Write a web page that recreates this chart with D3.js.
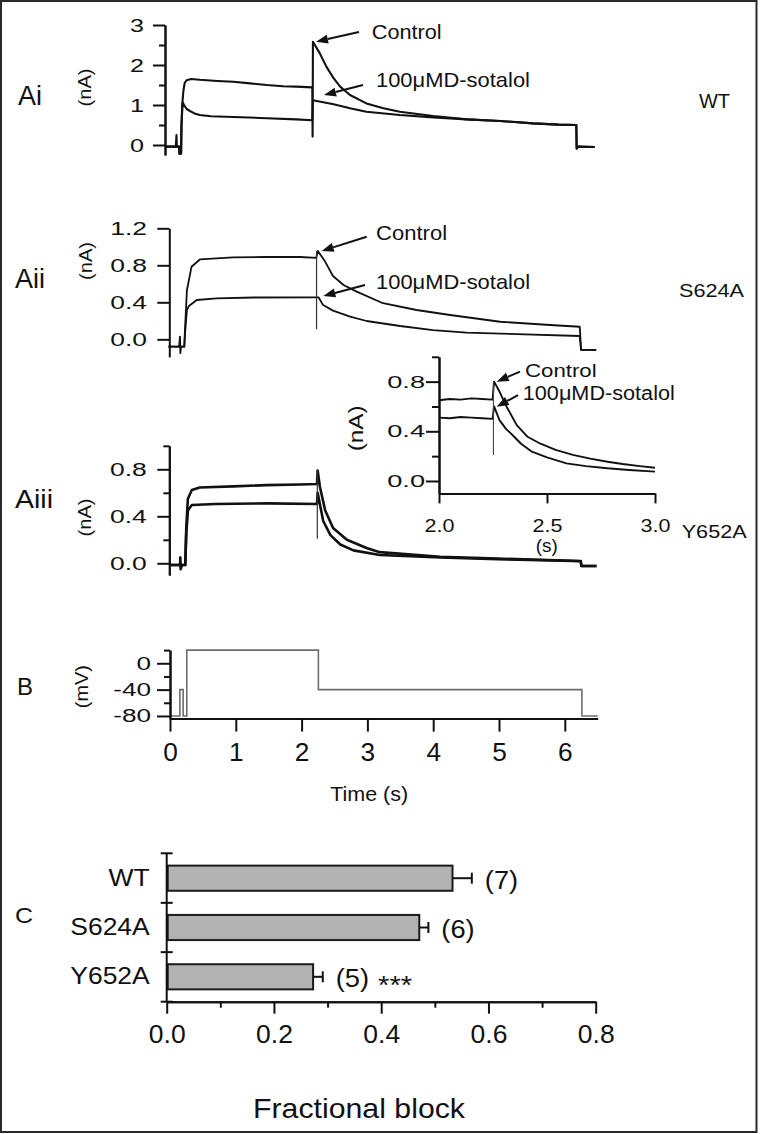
<!DOCTYPE html>
<html><head><meta charset="utf-8">
<script src="https://cdn.jsdelivr.net/npm/d3@7"></script>
<style>body{margin:0;background:#fff}svg{display:block}</style>
</head><body>
<svg id="fig" width="761" height="1134"></svg>
<script>
// ---------------- DATA ----------------
// Panel Ai (WT) current traces [time s, current nA]
const aiControl = [[0,-0.04],[0.165,-0.04],[0.175,0.25],[0.18,-0.04],[0.215,-0.04],[0.22,-0.22],[0.245,-0.22],[0.25,0.3],[0.26,0.95],[0.28,1.35],[0.3,1.55],[0.33,1.62],[0.4,1.65],[0.53,1.63],[0.8,1.6],[1.04,1.58],[1.3,1.54],[1.55,1.5],[1.8,1.47],[2.0,1.46],[2.245,1.44],[2.25,0.21],[2.255,2.58],[2.36,2.29],[2.46,1.96],[2.57,1.67],[2.67,1.46],[2.82,1.25],[3.07,1.04],[3.33,0.92],[3.58,0.83],[4.09,0.725],[4.6,0.64],[5.11,0.6],[5.61,0.54],[6.0,0.51],[6.27,0.5],[6.275,-0.09],[6.3,-0.04],[6.55,-0.05]];
const aiSotalol = [[0,-0.04],[0.215,-0.04],[0.22,-0.22],[0.245,-0.22],[0.25,0.5],[0.27,1.06],[0.29,1.0],[0.33,0.9],[0.38,0.85],[0.45,0.79],[0.53,0.75],[0.7,0.72],[1.04,0.7],[1.55,0.67],[2.0,0.64],[2.245,0.62],[2.255,1.12],[2.57,1.02],[2.82,0.92],[3.07,0.83],[3.58,0.75],[4.09,0.69],[4.6,0.64],[5.11,0.6],[5.61,0.54],[6.0,0.51],[6.27,0.5],[6.275,-0.09],[6.3,-0.04],[6.55,-0.05]];
// Panel Aii (S624A)
const aiiControl = [[0,-0.08],[0.16,-0.08],[0.175,0.03],[0.18,-0.15],[0.19,-0.08],[0.24,-0.08],[0.25,0.1],[0.28,0.53],[0.35,0.785],[0.48,0.865],[0.98,0.886],[1.49,0.89],[2.0,0.89],[2.245,0.88],[2.27,0.955],[2.38,0.84],[2.5,0.684],[2.66,0.587],[2.86,0.515],[3.26,0.39],[3.77,0.317],[4.28,0.263],[5.04,0.19],[5.8,0.155],[6.25,0.136],[6.27,-0.115],[6.5,-0.115]];
const aiiSotalol = [[0,-0.08],[0.24,-0.08],[0.25,0.05],[0.28,0.317],[0.31,0.36],[0.43,0.425],[0.73,0.443],[1.3,0.452],[2.245,0.454],[2.28,0.454],[2.35,0.37],[2.5,0.31],[2.76,0.245],[3.01,0.198],[3.52,0.144],[4.02,0.1],[4.53,0.072],[5.29,0.057],[6.25,0.036],[6.27,-0.115],[6.5,-0.115]];
const aiiSpike = [[2.25,0.955],[2.25,0.108]];
// Panel Aiii (Y652A)
const aiiiControl = [[0,-0.015],[0.16,-0.015],[0.165,0.05],[0.17,-0.05],[0.19,-0.015],[0.24,-0.015],[0.255,0.3],[0.28,0.55],[0.34,0.624],[0.46,0.645],[0.97,0.655],[1.47,0.665],[1.99,0.67],[2.245,0.675],[2.255,0.79],[2.29,0.65],[2.37,0.45],[2.49,0.3],[2.7,0.2],[3.0,0.13],[3.2,0.095],[4.12,0.056],[5.0,0.04],[6.14,0.022],[6.26,0.02],[6.27,-0.023],[6.5,-0.023]];
const aiiiSotalol = [[0,-0.015],[0.24,-0.015],[0.255,0.25],[0.28,0.45],[0.34,0.496],[0.7,0.505],[1.5,0.51],[2.245,0.505],[2.255,0.6],[2.34,0.36],[2.45,0.24],[2.6,0.16],[2.8,0.11],[3.2,0.07],[4.12,0.05],[5.0,0.035],[6.14,0.02],[6.26,0.018],[6.27,-0.023],[6.5,-0.023]];
const aiiiSpike = [[2.25,0.79],[2.25,0.21]];
// Inset (Y652A, 2-3 s)
const insetControl = [[2.0,0.65],[2.05,0.66],[2.1,0.655],[2.15,0.665],[2.2,0.66],[2.248,0.655],[2.255,0.8],[2.28,0.72],[2.313,0.598],[2.36,0.45],[2.41,0.356],[2.47,0.3],[2.54,0.25],[2.62,0.21],[2.7,0.18],[2.78,0.155],[2.85,0.137],[2.93,0.12],[3.0,0.107]];
const insetSotalol = [[2.0,0.51],[2.05,0.505],[2.1,0.515],[2.15,0.51],[2.2,0.505],[2.248,0.5],[2.255,0.6],[2.28,0.49],[2.31,0.42],[2.34,0.37],[2.38,0.3],[2.43,0.236],[2.5,0.19],[2.59,0.142],[2.68,0.12],[2.78,0.102],[2.88,0.088],[3.0,0.075]];
const insetSpike = [[2.252,0.8],[2.252,0.21]];
// Panel B voltage protocol
const protocolTime = [0,0.15,0.15,0.2,0.2,0.255,0.255,2.255,2.255,6.26,6.26,6.5];
const protocolVoltage = [-80,-80,-40,-40,-80,-80,20,20,-40,-40,-80,-80];
// Panel C fractional block
const cats = ["WT","S624A","Y652A"];
const block = [0.533,0.471,0.273];
const sem = [0.036,0.017,0.018];
const nLabels = ["(7)","(6)","(5)"];
const sig = ["","","***"];
// tick labels
const aiTicks = [0,1,2,3], aiMinor = [0.5,1.5,2.5];
const aiiTicks = [0,0.4,0.8,1.2];
const aiiiTicks = [0,0.4,0.8], aiiiMinor = [0.2,0.6,1.0];
const insetYTicks = [0,0.4,0.8], insetYMinor = [0.2,0.6,1.0], insetXTicks = [2.0,2.5,3.0];
const bYTicks = [0,-40,-80], bYMinor = [20,-20,-60], bXTicks = [0,1,2,3,4,5,6];
const cXTicks = [0,0.2,0.4,0.6,0.8], cXMinor = [0.1,0.3,0.5,0.7];

// ---------------- DRAWING ----------------
const FONT = "'Liberation Sans', Arial, Helvetica, sans-serif";
const INK = "#111";
const svg = d3.select("#fig");
svg.append("rect").attr("x",1).attr("y",1).attr("width",755.5).attr("height",1131)
  .attr("fill","#fff").attr("stroke","#2a2a2a").attr("stroke-width",2);

function stretch(sel, f){
  sel.each(function(){ const L=this.getComputedTextLength(); if(L>0) d3.select(this).attr("textLength",L*f).attr("lengthAdjust","spacingAndGlyphs"); });
}
function styleAxis(g, size, f){
  g.attr("font-family",FONT);
  g.select(".domain").attr("stroke",INK).attr("stroke-width",2);
  g.selectAll(".tick line").attr("stroke",INK).attr("stroke-width",2);
  const t = g.selectAll(".tick text").attr("font-size",size).attr("fill",INK).attr("font-family",FONT);
  if (f) stretch(t, f);
}
function text(str, x, y, size, opt={}){
  const t = svg.append("text").attr("x",x).attr("y",y).attr("font-family",FONT)
    .attr("font-size",size).attr("fill",INK).text(str);
  if (opt.anchor) t.attr("text-anchor",opt.anchor);
  if (opt.width) t.attr("textLength",opt.width).attr("lengthAdjust","spacingAndGlyphs");
  return t;
}
function vtext(str, cx, cy, size, width){
  const t = svg.append("text").attr("transform",`translate(${cx},${cy}) rotate(-90)`)
    .attr("text-anchor","middle").attr("dominant-baseline","central")
    .attr("font-family",FONT).attr("font-size",size).attr("fill",INK).text(str);
  if (width) t.attr("textLength",width).attr("lengthAdjust","spacingAndGlyphs");
}
function trace(data, x, y, w, color){
  svg.append("path").datum(data)
    .attr("d", d3.line().x(d=>x(d[0])).y(d=>y(d[1])))
    .attr("fill","none").attr("stroke",color||INK).attr("stroke-width",w)
    .attr("stroke-linejoin","round");
}
function arrow(tail, tip, x, y){
  const x1=x(tail[0]), y1=y(tail[1]), x2=x(tip[0]), y2=y(tip[1]);
  const a=Math.atan2(y2-y1,x2-x1), L=12, W=4.5;
  const bx=x2-L*Math.cos(a), by=y2-L*Math.sin(a);
  svg.append("line").attr("x1",x1).attr("y1",y1).attr("x2",bx).attr("y2",by)
    .attr("stroke",INK).attr("stroke-width",2);
  svg.append("path").attr("d",`M${x2},${y2}L${bx+W*Math.sin(a)},${by-W*Math.cos(a)}L${bx-W*Math.sin(a)},${by+W*Math.cos(a)}Z`)
    .attr("fill",INK);
}
function yAxis(scale, xpos, ticks, minor, fmt, size, pad, f, majorLen, minorLen){
  const g = svg.append("g").attr("transform",`translate(${xpos},0)`)
    .call(d3.axisLeft(scale).tickValues(ticks).tickFormat(fmt).tickSize(majorLen||12).tickPadding(pad).tickSizeOuter(0));
  styleAxis(g, size, f);
  if (minor) {
    const m = svg.append("g").attr("transform",`translate(${xpos},0)`)
      .call(d3.axisLeft(scale).tickValues(minor).tickFormat("").tickSize(minorLen||6).tickSizeOuter(0));
    styleAxis(m, size);
  }
}

// ---- Ai ----
const xAi = d3.scaleLinear([0,6.5],[165,591.4]);
const yAi = d3.scaleLinear([-0.25,3],[155,25]);
yAxis(yAi,165,aiTicks,aiMinor,d3.format("d"),19,9,1.32);
trace(aiSotalol,xAi,yAi,2.1);
trace(aiControl,xAi,yAi,2.1);
text("Ai",18,105,27);
vtext("(nA)",84,87.5,19,38);
arrow([2.957,2.825],[2.302,2.583],xAi,yAi);
arrow([3.018,1.5],[2.424,1.25],xAi,yAi);
text("Control",xAi(3.151),yAi(2.643),20,{width:70});
text("100\u03bcMD-sotalol",xAi(3.216),yAi(1.443),21,{width:154});
text("WT",699,108,21,{width:31});

// ---- Aii ----
const xAii = d3.scaleLinear([0,6.5],[168.5,596.2]);
const yAii = d3.scaleLinear([-0.19,1.2],[356.9,228.3]);
yAxis(yAii,169.3,aiiTicks,null,d3.format(".1f"),18.5,10.3,1.43);
trace(aiiSotalol,xAii,yAii,1.8);
trace(aiiControl,xAii,yAii,1.8);
trace(aiiSpike,xAii,yAii,1.2,"#333");
text("Aii",15,288,27);
vtext("(nA)",85,261,19,38);
arrow([3.012,1.109],[2.328,0.955],xAii,yAii);
arrow([2.986,0.587],[2.353,0.468],xAii,yAii);
text("Control",xAii(3.154),yAii(1.074),21,{width:71});
text("100\u03bcMD-sotalol",xAii(3.154),yAii(0.541),21,{width:154});
text("S624A",679,296.7,19,{width:65});

// ---- Aiii ----
const xAiii = d3.scaleLinear([0,6.5],[169.5,596.5]);
const yAiii = d3.scaleLinear([-0.1,1.0],[575.05,445.8]);
yAxis(yAiii,169.3,aiiiTicks,aiiiMinor,d3.format(".1f"),18,10.6,1.47);
trace(aiiiSotalol,xAiii,yAiii,2.6);
trace(aiiiControl,xAiii,yAiii,2.6);
trace(aiiiSpike,xAiii,yAiii,1.2,"#333");
text("Aiii",15,508,26,{width:38});
vtext("(nA)",84,517.5,19,38);

// ---- Inset ----
const xIn = d3.scaleLinear([2,3],[439,655]);
const yIn = d3.scaleLinear([-0.1,1.0],[493.4,356.8]);
yAxis(yIn,439,insetYTicks,insetYMinor,d3.format(".1f"),17,1,1.6,13,7);
const gInX = svg.append("g").attr("transform",`translate(0,${yIn(-0.1)})`)
  .call(d3.axisBottom(xIn).tickValues(insetXTicks).tickFormat(d3.format(".1f")).tickSize(10).tickPadding(16).tickSizeOuter(0));
styleAxis(gInX,17.5,1.23);
trace(insetSotalol,xIn,yIn,1.9);
trace(insetControl,xIn,yIn,1.9);
trace(insetSpike,xIn,yIn,1.1,"#444");
vtext("(nA)",355.5,428.3,21,46);
text("(s)",546.7,552,18,{anchor:"middle",width:22});
arrow([2.375,0.88],[2.267,0.8],xIn,yIn);
arrow([2.366,0.692],[2.267,0.598],xIn,yIn);
text("Control",xIn(2.398),yIn(0.84),19,{width:71.7});
text("100\u03bcMD-sotalol",xIn(2.388),yIn(0.652),20,{width:152});
text("Y652A",681.7,538.3,18,{width:65});

// ---- B ----
const xB = d3.scaleLinear([0,6.5],[170,597.7]);
const yB = d3.scaleLinear([-84,20],[718.6,650.1]);
svg.append("path").datum(d3.zip(protocolTime,protocolVoltage))
  .attr("d",d3.line().x(d=>xB(d[0])).y(d=>yB(d[1])))
  .attr("fill","none").attr("stroke","#6e6e6e").attr("stroke-width",1.6);
yAxis(yB,170,bYTicks,bYMinor,d=>String(d),18,6,1.45,13,6);
const gBX = svg.append("g").attr("transform",`translate(0,${yB(-84)})`)
  .call(d3.axisBottom(xB).tickValues(bXTicks).tickFormat(d3.format("d")).tickSize(13).tickPadding(11.7).tickSizeOuter(0));
styleAxis(gBX,25,1.05);
text("B",17,695,24);
vtext("(mV)",81.7,686.7,19,43);
text("Time (s)",369.2,800.7,20,{anchor:"middle",width:78});

// ---- C ----
const xC = d3.scaleLinear([0,0.8],[166.7,595.7]);
const yC = d3.scaleBand(cats,[853.3,1001.7]).paddingInner(0.49).paddingOuter(0.25);
const gap = (yC.step()-yC.bandwidth())/2;
const bounds = [yC.range()[0], ...cats.slice(1).map(c=>yC(c)-gap), yC.range()[1]];
svg.selectAll(".cbar").data(cats).join("rect").attr("class","cbar")
  .attr("x",xC(0)+1).attr("y",c=>yC(c)).attr("width",(c,i)=>xC(block[i])-xC(0)-1)
  .attr("height",yC.bandwidth()).attr("fill","#b2b2b2").attr("stroke","#1a1a1a").attr("stroke-width",2);
cats.forEach((c,i)=>{
  const cy = yC(c)+yC.bandwidth()/2, xe = xC(block[i]+sem[i]);
  svg.append("line").attr("x1",xC(block[i])).attr("x2",xe).attr("y1",cy).attr("y2",cy).attr("stroke",INK).attr("stroke-width",2);
  svg.append("line").attr("x1",xe).attr("x2",xe).attr("y1",cy-5.5).attr("y2",cy+5.5).attr("stroke",INK).attr("stroke-width",2);
  text(nLabels[i],xe+13,cy+10.5,26,{width:33.3});
  if (sig[i]) text(sig[i],xe+55.3,cy+17,25,{width:34});
});
const gCY = svg.append("g").attr("transform",`translate(${xC(0)},0)`)
  .call(d3.axisLeft(yC).tickSize(0).tickPadding(17).tickSizeOuter(0));
styleAxis(gCY,23,1.15);
gCY.select(".domain").attr("d",`M0,${bounds[0]}V${bounds[3]}`);
svg.selectAll(".cbound").data(bounds).join("line").attr("class","cbound")
  .attr("x1",xC(0)-6).attr("x2",xC(0)+6).attr("y1",d=>d).attr("y2",d=>d)
  .attr("stroke",INK).attr("stroke-width",2);
const gCX = svg.append("g").attr("transform",`translate(0,${bounds[3]})`)
  .call(d3.axisBottom(xC).tickValues(cXTicks).tickFormat(d3.format(".1f")).tickSize(12).tickPadding(11.3).tickSizeOuter(0));
styleAxis(gCX,25,1.06);
const gCXm = svg.append("g").attr("transform",`translate(0,${bounds[3]})`)
  .call(d3.axisBottom(xC).tickValues(cXMinor).tickFormat("").tickSize(6).tickSizeOuter(0));
styleAxis(gCXm,25);
text("C",15,923,22,{width:18});
text("Fractional block",359,1118,28,{anchor:"middle",width:212});
</script>
</body></html>
